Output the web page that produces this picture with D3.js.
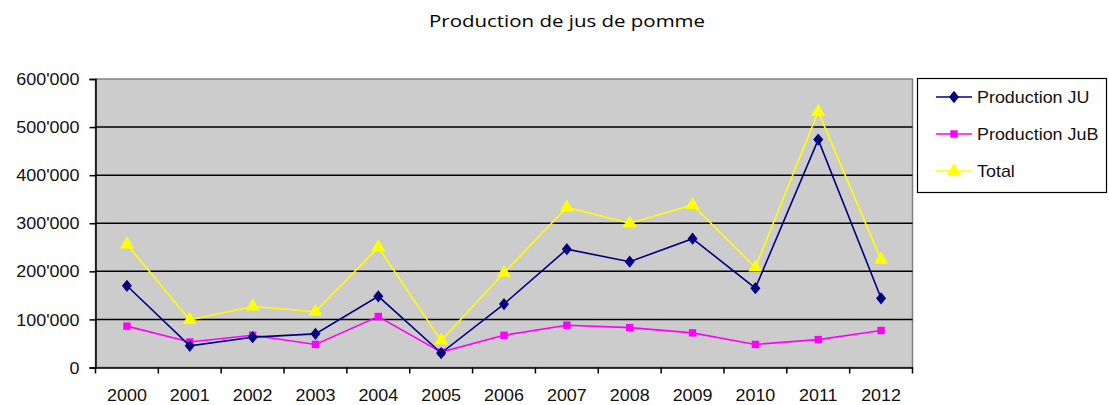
<!DOCTYPE html>
<html><head><meta charset="utf-8">
<script src="https://cdn.jsdelivr.net/npm/d3@7"></script>
<style>body{margin:0;background:#fff}svg{display:block}</style>
</head><body>
<script>
const years = ["2000","2001","2002","2003","2004","2005","2006","2007","2008","2009","2010","2011","2012"];
const productionJU = [170000,45000,63000,70000,148000,30000,132000,246000,220000,268000,165000,474000,144000];
const productionJuB = [86000,53000,67000,48000,106000,32000,67000,88000,83000,72000,48000,58000,77000];
const total = [256000,99000,127000,116000,250000,56000,197000,333000,300000,338000,208000,532000,224000];
const yTicks = [0,100000,200000,300000,400000,500000,600000];
const seriesNames = ["Production JU","Production JuB","Total"];
const colors = ["#000080","#ff00ff","#ffff00"];

const W=1109,H=405;
const svg=d3.select("body").append("svg").attr("width",W).attr("height",H);
const L=95.5,R=912.5,T=79,B=367.5;
const x=d3.scaleBand().domain(years).range([L,R]);
const y=d3.scaleLinear().domain([0,600000]).range([B,T]);
const fmt=v=>v===0?"0":d3.format(",")(v).replace(/,/g,"'");
const font="'Liberation Sans', Arial, sans-serif";

svg.append("text").attr("x",567).attr("y",27).attr("text-anchor","middle")
  .attr("font-family","'Open Sans', sans-serif").attr("font-size",17).attr("fill","#000")
  .attr("textLength",276).attr("lengthAdjust","spacingAndGlyphs").text("Production de jus de pomme");

svg.append("rect").attr("x",L).attr("y",T).attr("width",R-L).attr("height",B-T)
  .attr("fill","#cccccc").attr("stroke","#808080").attr("stroke-width",1.5);

svg.append("g").selectAll("line").data(yTicks.filter(d=>d>0&&d<600000)).join("line")
  .attr("x1",L).attr("x2",R).attr("y1",d=>y(d)).attr("y2",d=>y(d))
  .attr("stroke","#000").attr("stroke-width",1.5);

const ya=svg.append("g").attr("transform",`translate(${L},0)`)
  .call(d3.axisLeft(y).tickValues(yTicks).tickFormat(fmt).tickSize(6).tickPadding(0));
ya.select(".domain").attr("stroke","#000").attr("stroke-width",1.5);
ya.selectAll(".tick line").attr("stroke","#000").attr("stroke-width",1.5);
ya.selectAll(".tick text").attr("font-family",font).attr("font-size",16).attr("fill","#111")
  .attr("x",0).attr("dy","0.35em").attr("transform","translate(-16,0) scale(1.12,1)");

const xa=svg.append("g").attr("transform",`translate(0,${B})`)
  .call(d3.axisBottom(x).tickSize(0).tickPadding(0));
xa.select(".domain").attr("stroke","#000").attr("stroke-width",1.5);
xa.selectAll(".tick text").attr("font-family",font).attr("font-size",16).attr("fill","#111")
  .attr("y",0).attr("dy",0).attr("transform","translate(0,33) scale(1.12,1)");
svg.append("g").selectAll("line").data(years.concat(["end"])).join("line")
  .attr("x1",(d,i)=>L+i*x.step()).attr("x2",(d,i)=>L+i*x.step())
  .attr("y1",B).attr("y2",B+6).attr("stroke","#000").attr("stroke-width",1.5);

const data=[productionJU,productionJuB,total];
const sym=[d3.symbolDiamond,d3.symbolSquare,d3.symbolTriangle];
const sz=[60,55,85];
const cx=d=>x(d)+x.bandwidth()/2;
const line=d3.line().x((d,i)=>cx(years[i])).y(d=>y(d));
[2,1,0].forEach(k=>{
  svg.append("path").datum(data[k]).attr("d",line).attr("fill","none")
    .attr("stroke",colors[k]).attr("stroke-width",1.6);
  svg.append("g").selectAll("path").data(data[k]).join("path")
    .attr("d",d3.symbol().type(sym[k]).size(sz[k]))
    .attr("transform",(d,i)=>`translate(${cx(years[i])},${y(d)})${k===0?" scale(1.2,0.85)":""}`)
    .attr("fill",colors[k]);
});

const lg=svg.append("g");
lg.append("rect").attr("x",917.5).attr("y",78.5).attr("width",189).attr("height",114)
  .attr("fill","#fff").attr("stroke","#000").attr("stroke-width",1.2);
seriesNames.forEach((n,k)=>{
  const yy=[97,134,171][k];
  lg.append("line").attr("x1",936).attr("x2",972).attr("y1",yy).attr("y2",yy)
    .attr("stroke",colors[k]).attr("stroke-width",1.6);
  lg.append("path").attr("d",d3.symbol().type(sym[k]).size(sz[k]))
    .attr("transform",`translate(954,${yy})${k===0?" scale(1.2,0.85)":""}`).attr("fill",colors[k]);
  lg.append("text").attr("x",0).attr("y",0).attr("transform",`translate(977,${yy+6}) scale(1.12,1)`)
    .attr("font-family",font).attr("font-size",16).attr("fill","#111").text(n);
});
</script>
</body></html>
